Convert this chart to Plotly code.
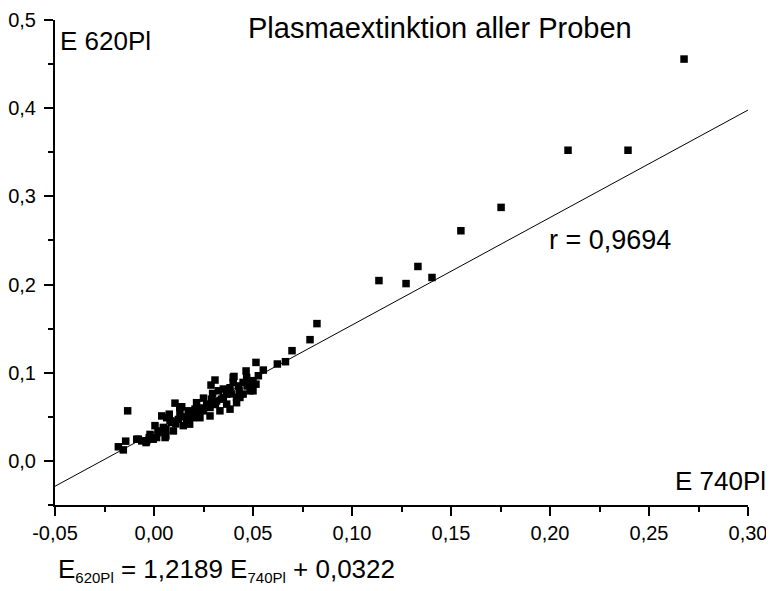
import plotly.graph_objects as go

# Data (E 740Pl vs E 620Pl)
x_vals = [0.2677, 0.2394, 0.2091, 0.1753, 0.1550, 0.1333, 0.1136, 0.1273, 0.1404,
          0.0823, 0.0788, 0.0697, 0.0664, 0.0623, 0.0552, 0.0515, 0.0465, 0.0400,
          0.0308, 0.0288, -0.0133, -0.0180, -0.0155, -0.0143, -0.0087, -0.0062,
          -0.0040, -0.0024, 0.0005, 0.0056, 0.0106, 0.0130, 0.0250, 0.0384,
          0.0404, 0.0296, 0.0384, 0.0325, 0.0140, 0.0434, 0.0485, 0.0500, 0.0450,
          0.0039, 0.0077, 0.0060, 0.0013, -0.0037, -0.0079, 0.0180, 0.0232, 0.0283,
          0.0333, 0.0367, 0.0173, 0.0207, 0.0123, 0.0090, 0.0148, 0.0047, 0.0098,
          0.0215, 0.0266, 0.0316, 0.0350, 0.0426, 0.0468, 0.0350, 0.0283, 0.0250,
          0.0131, 0.0081, 0.0064, 0.0030, -0.0020, -0.0004, 0.0198, 0.0165, 0.0300,
          0.0215, 0.0417, 0.0450, 0.0400, 0.0367, 0.0515, 0.0527, 0.0485, 0.0500,
          0.0417, 0.0100, 0.0160, 0.0190, 0.0240, 0.0270, 0.0310, 0.0340, 0.0060,
          0.0020, 0.0110, 0.0220, 0.0290, 0.0390, 0.0430, 0.0470]
y_vals = [0.4557, 0.3523, 0.3523, 0.2875, 0.2610, 0.2205, 0.2045, 0.2011, 0.2080,
          0.1557, 0.1375, 0.1250, 0.1125, 0.1099, 0.1030, 0.1117, 0.1020, 0.0947,
          0.0917, 0.0860, 0.0568, 0.0160, 0.0125, 0.0224, 0.0246, 0.0227,
          0.0208, 0.0265, 0.0400, 0.0265, 0.0655, 0.0606, 0.0712, 0.0587,
          0.0958, 0.0765, 0.0830, 0.0795, 0.0614, 0.0720, 0.0795, 0.0910, 0.0890,
          0.0510, 0.0530, 0.0284, 0.0265, 0.0227, 0.0246, 0.0417, 0.0490, 0.0510,
          0.0568, 0.0644, 0.0568, 0.0587, 0.0470, 0.0435, 0.0400, 0.0380, 0.0340,
          0.0660, 0.0644, 0.0680, 0.0720, 0.0850, 0.0947, 0.0815, 0.0606, 0.0568,
          0.0550, 0.0455, 0.0490, 0.0340, 0.0300, 0.0246, 0.0490, 0.0455, 0.0644,
          0.0550, 0.0660, 0.0758, 0.0890, 0.0758, 0.0870, 0.0966, 0.0875, 0.0795,
          0.0720, 0.0450, 0.0500, 0.0520, 0.0600, 0.0620, 0.0640, 0.0700, 0.0360,
          0.0320, 0.0420, 0.0540, 0.0700, 0.0760, 0.0800, 0.0850]

slope = 1.2189
intercept = 0.0322
fit_x = [-0.05, 0.30]
fit_y = [slope * v + intercept for v in fit_x]

x_ticks = [-0.05, 0.00, 0.05, 0.10, 0.15, 0.20, 0.25, 0.30]
x_ticktext = ["-0,05", "0,00", "0,05", "0,10", "0,15", "0,20", "0,25", "0,30"]
y_ticks = [0.0, 0.1, 0.2, 0.3, 0.4, 0.5]
y_ticktext = ["0,0", "0,1", "0,2", "0,3", "0,4", "0,5"]

FONT = "Liberation Sans, Arial, sans-serif"

fig = go.Figure()
fig.add_trace(go.Scatter(x=fit_x, y=fit_y, mode="lines",
                         line=dict(color="black", width=1), showlegend=False,
                         hoverinfo="skip"))
fig.add_trace(go.Scatter(x=x_vals, y=y_vals, mode="markers",
                         marker=dict(symbol="square", size=7.5, color="black",
                                     line=dict(width=0)),
                         showlegend=False))

axis_common = dict(showgrid=False, zeroline=False, showline=True, linecolor="black",
                   linewidth=2, ticks="outside", ticklen=9, tickwidth=2,
                   tickcolor="black", automargin=False, tickfont=dict(size=20))

fig.update_layout(
    width=766, height=583,
    margin=dict(l=47, r=26, t=12, b=86, autoexpand=False),
    paper_bgcolor="white", plot_bgcolor="white",
    separators=", ",
    font=dict(family=FONT, color="black", size=18),
    xaxis=dict(range=[-0.05, 0.30], tickvals=x_ticks, ticktext=x_ticktext,
               minor=dict(dtick=0.025, tick0=0, ticks="outside", ticklen=5,
                          tickwidth=2, tickcolor="black", showgrid=False),
               **axis_common),
    yaxis=dict(range=[-0.05, 0.50], tickvals=y_ticks, ticktext=y_ticktext,
               ticklabelstandoff=4,
               minor=dict(dtick=0.05, tick0=0, ticks="outside", ticklen=5,
                          tickwidth=2, tickcolor="black", showgrid=False),
               **axis_common),
)

fig.add_annotation(text="Plasmaextinktion aller Proben", xref="paper", yref="paper",
                   x=0.556, y=1, yshift=-8, xanchor="center", yanchor="middle",
                   showarrow=False, font=dict(size=29))
fig.add_annotation(text="E 620Pl", xref="paper", yref="paper", x=0, y=1,
                   xshift=3, yshift=-4, xanchor="left", yanchor="top",
                   showarrow=False, font=dict(size=26))
fig.add_annotation(text="E 740Pl", xref="paper", yref="paper", x=1, y=0,
                   xshift=20, yshift=24, xanchor="right", yanchor="middle",
                   showarrow=False, font=dict(size=26))
fig.add_annotation(text="r = 0,9694", xref="x", yref="y", x=0.1985, y=0.25,
                   xanchor="left", yanchor="middle", showarrow=False,
                   font=dict(size=27))
fig.add_annotation(
    text=("E<sub><span style='font-size:15px'>620Pl</span></sub> = 1,2189 "
          "E<sub><span style='font-size:15px'>740Pl</span></sub> + 0,0322"),
    xref="paper", yref="paper", x=0, y=0, xshift=1, yshift=-65,
    xanchor="left", yanchor="middle", showarrow=False,
    font=dict(size=26))

fig.write_html("out.html")
